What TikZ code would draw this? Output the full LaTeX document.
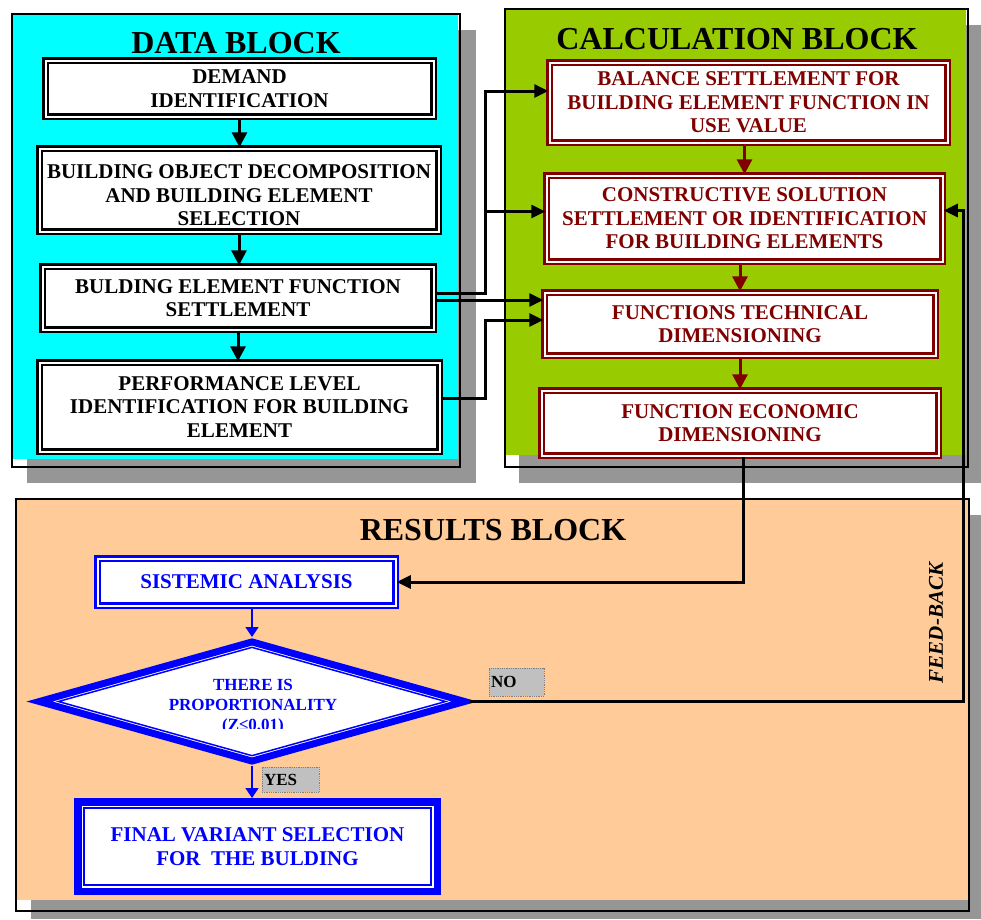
\documentclass[tikz,border=0pt]{standalone}
\usepackage{fontspec}
\setmainfont{Liberation Serif}
\usetikzlibrary{shapes.geometric}
\usetikzlibrary{arrows.meta}
\definecolor{datacyan}{HTML}{00FFFF}
\definecolor{calcgreen}{HTML}{99CC00}
\definecolor{respeach}{HTML}{FFCC99}
\definecolor{shadowgray}{HTML}{969696}
\definecolor{calcred}{HTML}{800000}
\definecolor{resblue}{HTML}{0000FF}
\definecolor{answergray}{HTML}{C0C0C0}
\newcommand{\blocktitlefont}{\bfseries\fontsize{32}{36}\selectfont}
\newcommand{\boxtextfont}{\bfseries\fontsize{21}{23.5}\selectfont}
\newcommand{\smalltextfont}{\bfseries\fontsize{17}{20}\selectfont}
\tikzset{
    blocktitle/.style={inner sep=0pt,font=\blocktitlefont},
    databox/.style={draw=black,double=white,double distance=2pt,line width=2.5pt,
        fill=white,align=center,inner sep=1pt,font=\boxtextfont},
    calcbox/.style={databox,draw=calcred,text=calcred},
    resbox/.style={databox,draw=resblue,text=resblue},
    fatbox/.style={draw=resblue,line width=7.5pt,fill=white,align=center,inner sep=0pt,
        text=resblue,font=\boxtextfont,
        path picture={\draw[resblue,line width=1.5pt]
            ([shift={(6.25pt,6.25pt)}]path picture bounding box.south west) rectangle
            ([shift={(-6.25pt,-6.25pt)}]path picture bounding box.north east);}},
    decision/.style={diamond,draw=resblue,line width=7pt,fill=white,inner sep=0pt,
        path picture={\draw[resblue,line width=1.5pt]
            ([xshift=19pt]path picture bounding box.west) --
            ([yshift=-5.4pt]path picture bounding box.north) --
            ([xshift=-19pt]path picture bounding box.east) --
            ([yshift=5.4pt]path picture bounding box.south) -- cycle;}},
    answer/.style={fill=answergray,draw=gray,densely dotted,line width=0.8pt,
        align=left,inner sep=2pt,font=\smalltextfont},
    dataarrow/.style={line width=3pt,-{Triangle[length=15pt,width=15pt]}},
    calcarrow/.style={dataarrow,calcred},
    linkarrow/.style={line width=3pt,-{Triangle[length=14pt,width=13pt]}},
    resarrow/.style={resblue,line width=1.5pt,-{Triangle[length=10pt,width=13pt]}}
}
\begin{document}
\begin{tikzpicture}[x=1pt,y=-1pt]
           \useasboundingbox (0,0) rectangle (981,919);
           % block backgrounds
           \fill[shadowgray] (27,30) rectangle (476,483);
           \fill[datacyan] (12,14) rectangle (458,459);
           \draw[line width=1.5pt] (12,14) rectangle (460,467);
           \fill[shadowgray] (519,25) rectangle (981,483);
           \fill[calcgreen] (505,9) rectangle (966,455);
           \draw[line width=1.5pt] (505,9) rectangle (968,467);
           \fill[shadowgray] (31,515) rectangle (981,919);
           \fill[respeach] (16,499) rectangle (968,900);
           \draw[line width=1.5pt] (16,499) rectangle (969,911);
           \node[blocktitle] (datatitle) at (236,43) {DATA BLOCK};
           \node[blocktitle] (calctitle) at (737,39) {CALCULATION BLOCK};
           \node[blocktitle] (restitle) at (493,530) {RESULTS BLOCK};
           % data block
           \node[databox,minimum width=388pt,minimum height=56pt] (demand) at (239.5,88.5) {DEMAND\\IDENTIFICATION};
           \node[databox,minimum width=399pt,minimum height=83pt] (decomp) at (239,190) {\rule{0pt}{25pt}BUILDING OBJECT DECOMPOSITION\\AND BUILDING ELEMENT\\SELECTION};
           \node[databox,minimum width=391pt,minimum height=63pt] (funcsett) at (238,298) {BULDING ELEMENT FUNCTION\\SETTLEMENT};
           \node[databox,minimum width=400pt,minimum height=89pt] (perflevel) at (239.5,407) {PERFORMANCE LEVEL\\IDENTIFICATION FOR BUILDING\\ELEMENT};
           \draw[dataarrow] (demand.south) -- (demand.south |- decomp.north);
           \draw[dataarrow] (decomp.south) -- (decomp.south |- funcsett.north);
           \draw[dataarrow] (funcsett.south) -- (funcsett.south |- perflevel.north);
           % calculation block
           \node[calcbox,minimum width=398pt,minimum height=80pt] (balance) at (748.5,102.5) {BALANCE SETTLEMENT FOR\\BUILDING ELEMENT FUNCTION IN\\USE VALUE};
           \node[calcbox,minimum width=396pt,minimum height=86pt] (constr) at (744.5,218.5) {CONSTRUCTIVE SOLUTION\\SETTLEMENT OR IDENTIFICATION\\FOR BUILDING ELEMENTS};
           \node[calcbox,minimum width=391pt,minimum height=63pt] (techdim) at (740,324) {FUNCTIONS TECHNICAL\\DIMENSIONING};
           \node[calcbox,minimum width=397pt,minimum height=65pt] (econdim) at (740,423) {FUNCTION ECONOMIC\\DIMENSIONING};
           \draw[calcarrow] (balance.south -| constr.north) -- (constr.north);
           \draw[calcarrow] (constr.south -| techdim.north) -- (techdim.north);
           \draw[calcarrow] (techdim.south -| econdim.north) -- (econdim.north);
           % links between the blocks
           \coordinate (busA) at (485,0);
           \coordinate (feedx) at (963,0);
           \coordinate (balancein) at ([yshift=11.5pt]balance.west);
           \coordinate (constrin) at ([yshift=7pt]constr.west);
           \coordinate (techin) at ([yshift=4pt]techdim.west);
           \coordinate (feedin) at ([yshift=8pt]constr.east);
           \draw[linkarrow] ([yshift=5pt]funcsett.east) -| (busA |- balancein) -- (balancein);
           \draw[linkarrow] (busA |- constrin) -- (constrin);
           \draw[linkarrow] ([yshift=-2pt]funcsett.east) -- ([yshift=-2pt]funcsett.east -| techdim.west);
           \draw[linkarrow] ([yshift=9pt]perflevel.east) -| (busA |- techin) -- (techin);
           % results block
           \node[resbox,minimum width=298pt,minimum height=47pt] (sistemic) at (246.5,582) {SISTEMIC ANALYSIS};
           \node[decision,minimum width=428pt,minimum height=122pt] (proport) at (252,701.5) {};
           \begin{scope}
               \clip (20,630) rectangle (490,728);
               \node[font=\smalltextfont,text=resblue,align=center,inner sep=0pt] (proporttext) at (253,706.5) {THERE IS\\PROPORTIONALITY\\(Z≤0.01)};
           \end{scope}
           \node[fatbox,minimum width=359.5pt,minimum height=89.5pt] (finalsel) at (257.5,846.5) {FINAL VARIANT SELECTION\\FOR\ \ THE BULDING};
           \node[answer,text width=51pt,minimum height=28pt] (no) at (516.5,682) {NO};
           \node[answer,text width=53pt,minimum height=25pt] (yes) at (290.5,779.5) {YES};
           \node[font=\bfseries\itshape\fontsize{21}{24}\selectfont,rotate=90,inner sep=0pt] (feedback) at (936,623) {FEED-BACK};
           \draw[linkarrow] ([xshift=3pt]econdim.south) |- (sistemic.east);
           \draw[resarrow] (proport.north |- sistemic.south) -- (proport.north);
           \draw[resarrow] (proport.south) -- (proport.south |- finalsel.north);
           \draw[linkarrow] (proport.east) -| (feedx |- feedin) -- (feedin);
\end{tikzpicture}
\end{document}
